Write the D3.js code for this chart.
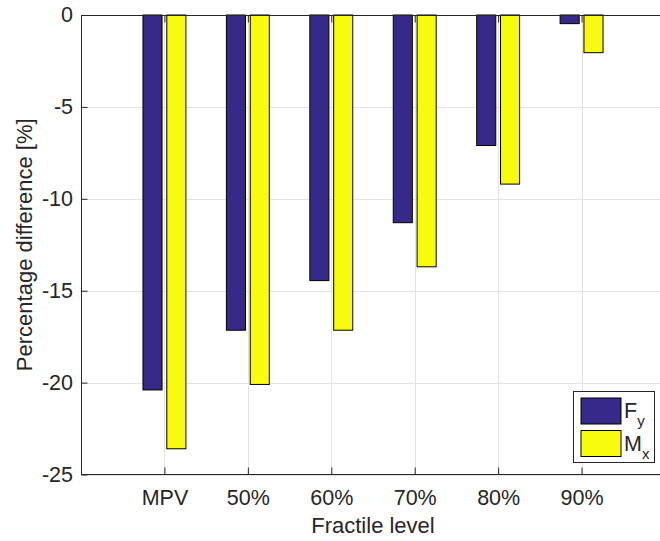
<!DOCTYPE html>
<html>
<head>
<meta charset="utf-8">
<script src="https://cdn.jsdelivr.net/npm/d3@7/dist/d3.min.js"></script>
<style>
  html, body { margin: 0; padding: 0; background: #fff; }
  svg { display: block; }
  text { font-family: "Liberation Sans", Arial, Helvetica, sans-serif; fill: #262626; }
</style>
</head>
<body>
<svg id="chart" width="660" height="541"></svg>
<script>
// Fractile levels on the x axis
const categories = ["MPV", "50%", "60%", "70%", "80%", "90%"];
// Percentage difference for each response quantity
const seriesNames = ["Fy", "Mx"];
const fyValues = [-20.4, -17.15, -14.45, -11.3, -7.1, -0.47];
const mxValues = [-23.6, -20.1, -17.15, -13.7, -9.2, -2.05];
const yTicks = [0, -5, -10, -15, -20, -25];

const series = [
  { name: seriesNames[0], base: "F", sub: "y", values: fyValues, color: "#352a87" },
  { name: seriesNames[1], base: "M", sub: "x", values: mxValues, color: "#f9fb0e" }
];

const svg = d3.select("#chart");
const axisColor = "#262626";
const gridColor = "#e3e3e3";
const fontSize = 21.5;
const titleSize = 22;

const plotLeft = 81, plotRight = 665, plotTop = 15, plotBottom = 474.5;

// category index 1..n placed on a numeric axis running 0..n+1
const x = d3.scaleLinear().domain([0, categories.length + 1]).range([plotLeft, plotRight]);
const y = d3.scaleLinear().domain([-25, 0]).range([plotBottom, plotTop]);

// grouped bar geometry (in category units)
const groupWidth = Math.min(0.8, series.length / (series.length + 1.5));
const slot = groupWidth / series.length;
const barW = 0.8 * slot;

// grid
const grid = svg.append("g");
grid.selectAll("line.gy").data(yTicks).join("line")
  .attr("x1", plotLeft).attr("x2", plotRight)
  .attr("y1", d => Math.round(y(d)) + 0.5).attr("y2", d => Math.round(y(d)) + 0.5)
  .attr("stroke", gridColor).attr("stroke-width", 1);
grid.selectAll("line.gx").data(categories).join("line")
  .attr("x1", (d, i) => Math.round(x(i + 1)) + 0.5).attr("x2", (d, i) => Math.round(x(i + 1)) + 0.5)
  .attr("y1", plotTop).attr("y2", plotBottom)
  .attr("stroke", gridColor).attr("stroke-width", 1);

// bars
series.forEach((s, si) => {
  const off = (si - (series.length - 1) / 2) * slot;
  svg.append("g").selectAll("rect").data(s.values).join("rect")
    .attr("x", (d, i) => x(i + 1 + off - barW / 2))
    .attr("width", (d, i) => x(i + 1 + off + barW / 2) - x(i + 1 + off - barW / 2))
    .attr("y", d => y(Math.max(0, d)))
    .attr("height", d => Math.abs(y(d) - y(0)))
    .attr("fill", s.color)
    .attr("stroke", "#000").attr("stroke-width", 1);
});

// axes (ticks pointing inward, box on top and left)
const yAxis = d3.axisLeft(y).tickValues(yTicks).tickSize(-6).tickPadding(8.5)
  .tickFormat(d => d === 0 ? "0" : String(d));
const gy = svg.append("g").attr("transform", `translate(${plotLeft + 0.5},0)`).call(yAxis);
gy.select(".domain").attr("stroke", axisColor).attr("d", `M0,${plotTop}V${plotBottom}`);
gy.selectAll(".tick line").attr("stroke", axisColor);
gy.selectAll(".tick text").attr("font-size", fontSize).attr("font-family", null).attr("fill", axisColor);

const xAxis = d3.axisBottom(x).tickValues(categories.map((c, i) => i + 1)).tickSize(-7).tickPadding(15)
  .tickFormat(d => categories[d - 1]);
const gx = svg.append("g").attr("transform", `translate(0,${plotBottom})`).call(xAxis);
gx.select(".domain").attr("stroke", axisColor).attr("d", `M${plotLeft},0H${plotRight}`);
gx.selectAll(".tick line").attr("stroke", axisColor);
gx.selectAll(".tick text").attr("font-size", fontSize).attr("font-family", null).attr("fill", axisColor);

const xTop = d3.axisTop(x).tickValues(categories.map((c, i) => i + 1)).tickSize(-7).tickFormat("");
const gt = svg.append("g").attr("transform", `translate(0,${plotTop + 0.5})`).call(xTop);
gt.select(".domain").attr("stroke", axisColor).attr("d", `M${plotLeft},0H${plotRight}`);
gt.selectAll(".tick line").attr("stroke", axisColor);

// axis titles
svg.append("text")
  .attr("x", (plotLeft + plotRight) / 2).attr("y", 533)
  .attr("text-anchor", "middle").attr("font-size", titleSize)
  .text("Fractile level");
svg.append("text")
  .attr("transform", `translate(32,${(plotTop + plotBottom) / 2}) rotate(-90)`)
  .attr("text-anchor", "middle").attr("font-size", titleSize)
  .text("Percentage difference [%]");

// legend
const lg = svg.append("g").attr("transform", "translate(573.5,391.5)");
lg.append("rect").attr("width", 81).attr("height", 71)
  .attr("fill", "#fff").attr("stroke", axisColor).attr("stroke-width", 1);
series.forEach((s, i) => {
  const row = lg.append("g").attr("transform", `translate(7.5,${6.5 + i * 32.5})`);
  row.append("rect").attr("width", 40).attr("height", 26)
    .attr("fill", s.color).attr("stroke", "#000").attr("stroke-width", 1);
  const t = row.append("text").attr("x", 43).attr("y", 20).attr("font-size", fontSize);
  t.append("tspan").text(s.base);
  t.append("tspan").attr("dy", 8).attr("font-size", 15).text(s.sub);
});
</script>
</body>
</html>
